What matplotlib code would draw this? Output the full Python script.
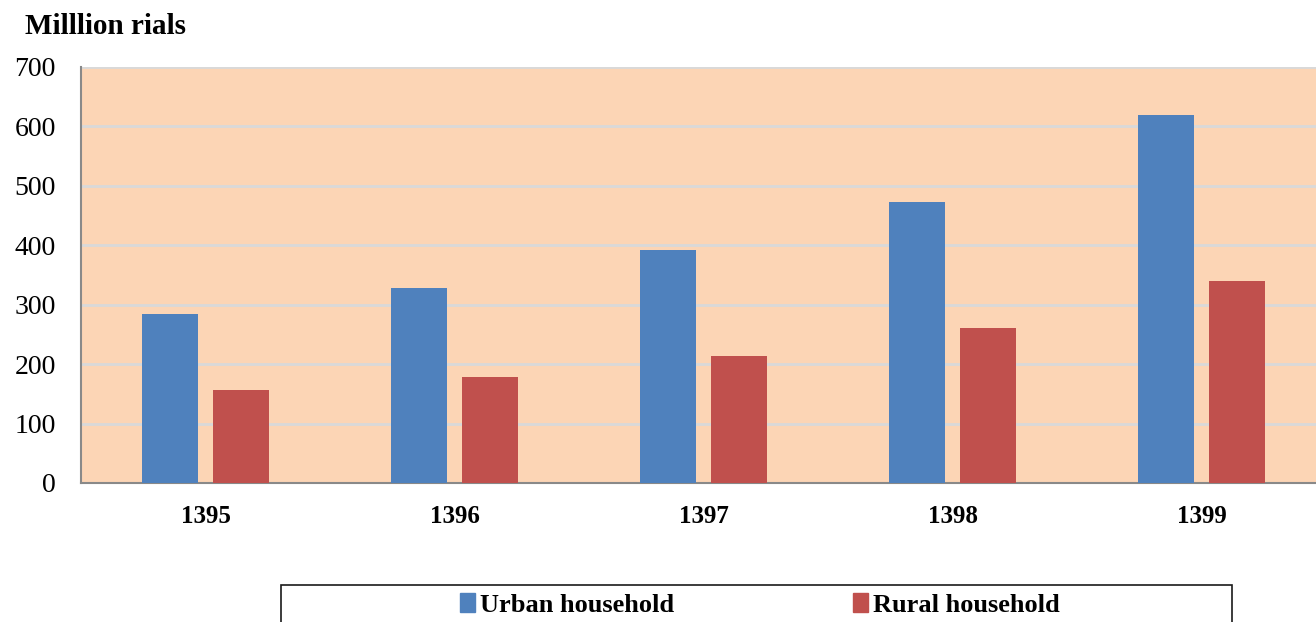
import matplotlib
matplotlib.use("Agg")
import matplotlib.pyplot as plt
import numpy as np
from matplotlib.patches import Rectangle, Patch

years = ["1395", "1396", "1397", "1398", "1399"]
urban = [284, 328, 392, 473, 619]
rural = [157, 178, 214, 261, 340]

plt.rcParams["font.family"] = ["Liberation Serif", "DejaVu Serif"]

blue = "#4f81bd"
red = "#c0504d"

fig = plt.figure(figsize=(13.16, 6.22), dpi=100)
ax = fig.add_axes([81 / 1316, 139 / 622, 1245 / 1316, 416 / 622])
ax.set_facecolor("#fcd5b5")

x = np.arange(len(years))
w = 0.225
off = 0.1426
ax.bar(x - off, urban, width=w, color=blue, zorder=3)
ax.bar(x + off, rural, width=w, color=red, zorder=3)

ax.set_xlim(-0.5, len(years) - 0.5)
ax.set_ylim(0, 700)
ax.set_yticks(range(0, 701, 100))
ax.yaxis.grid(True, color="#d9d9d9", linewidth=2, zorder=0)
ax.set_axisbelow(True)
ax.set_xticks(x)
ax.set_xticklabels(years, fontsize=18, fontweight="bold")
ax.tick_params(axis="x", length=0, pad=16)
ax.tick_params(axis="y", length=0, pad=18, labelsize=20)
ax.spines["top"].set_visible(False)
ax.spines["right"].set_visible(False)
ax.spines["left"].set_color("#898989")
ax.spines["bottom"].set_color("#898989")
ax.spines["left"].set_linewidth(1.5)
ax.spines["bottom"].set_linewidth(1.5)

fig.text(25 / 1316, 1 - 27 / 622, "Milllion rials", fontsize=21, fontweight="bold",
         va="center", ha="left")

fig.patches.append(Rectangle((281 / 1316, -0.05), 951 / 1316, 0.05 + 37 / 622,
                             transform=fig.transFigure, fill=False,
                             edgecolor="#1a1a1a", linewidth=1.2))
handles = [Patch(color=blue, label="Urban household"),
           Patch(color=red, label="Rural household")]
fig.legend(handles=handles, loc="center", bbox_to_anchor=(760 / 1316, 1 - 605 / 622),
           ncol=2, frameon=False, handlelength=0.55, handleheight=0.7,
           handletextpad=0.2, columnspacing=6.8,
           prop={"size": 19, "weight": "bold"})

fig.savefig("out.png", dpi=100)
